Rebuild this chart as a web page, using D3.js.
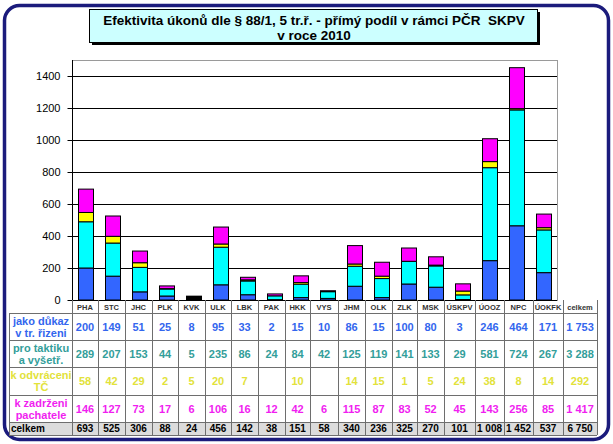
<!DOCTYPE html>
<html><head><meta charset="utf-8">
<script src="https://cdn.jsdelivr.net/npm/d3@7"></script>
<style>body{margin:0;background:#fff;} svg{display:block;font-family:"Liberation Sans",Arial,sans-serif;}</style>
</head><body><svg id="c" width="613" height="444"></svg>
<script>
// ---------- data ----------
const titleLines = ["Efektivita úkonů dle § 88/1, 5 tr.ř. - přímý podíl v rámci PČR\u00a0 SKPV", "v roce 2010"];
const categories = ["PHA","STC","JHC","PLK","KVK","ULK","LBK","PAK","HKK","VYS","JHM","OLK","ZLK","MSK","ÚSKPV","ÚOOZ","NPC","ÚOKFK"];
const totalColumnLabel = "celkem";
const seriesLabels = [["jako důkaz","v tr. řizeni"],["pro taktiku","a vyšetř."],["k odvráceni","TČ"],["k zadrženi","pachatele"]];
const jakoDukaz  = [200,149,51,25,8,95,33,2,15,10,86,15,100,80,3,246,464,171];
const proTaktiku = [289,207,153,44,5,235,86,24,84,42,125,119,141,133,29,581,724,267];
const kOdvraceni = [58,42,29,2,5,20,7,null,10,null,14,15,1,5,24,38,8,14];
const kZadrzeni  = [146,127,73,17,6,106,16,12,42,6,115,87,83,52,45,143,256,85];
const celkem     = [693,525,306,88,24,456,142,38,151,58,340,236,325,270,101,1008,1452,537];
const seriesTotals = [1753,3288,292,1417];
const grandTotal = 6750;
const yTicks = [0,200,400,600,800,1000,1200,1400];

// ---------- styles / layout ----------
const fills = ["#3366ff","#00ffff","#ffff00","#ff00ff"];
const textColors = ["#3366ee","#339e9a","#e2e23a","#f01ef0"];
const blackBars = ["KVK"];
const colWidths = [26,27,27,26,27,26,27,27,25,28,27,27,25,27,31,29,29,30,34];
const rowHeights = [13,27,27,28,27,13];
const plot = {left:72, right:557, top:60, bottom:300};
const labelColLeft = 9;

const svg = d3.select("#c");
const series = [jakoDukaz, proTaktiku, kOdvraceni, kZadrzeni];
const fmt = v => v == null ? "" : d3.format(",")(v).replace(/,/g, "\u00a0");

// frame
svg.append("rect").attr("x",4.5).attr("y",5.5).attr("width",604).attr("height",434)
  .attr("rx",15).attr("fill","#fff").attr("stroke","#1b1b7c").attr("stroke-width",3.5);

// title box
const tb = {x:89, y:9, w:448, h:33};
svg.append("rect").attr("x",tb.x+3).attr("y",tb.y+3).attr("width",tb.w).attr("height",tb.h).attr("fill","#000");
svg.append("rect").attr("x",tb.x+0.5).attr("y",tb.y+0.5).attr("width",tb.w).attr("height",tb.h)
  .attr("fill","#ccffff").attr("stroke","#000").attr("stroke-width",1);
titleLines.forEach((t,i)=>{
  svg.append("text").attr("x",tb.x+tb.w/2+1).attr("y",24.5+i*15).attr("text-anchor","middle")
    .attr("font-weight","bold").attr("font-size",13.5).attr("fill","#000").text(t);
});

// scales
const x = d3.scaleBand().domain(categories).range([plot.left, plot.right]).paddingInner(0.44).paddingOuter(0.22);
const y = d3.scaleLinear().domain([0,1500]).range([plot.bottom, plot.top]);

// plot area border
svg.append("rect").attr("x",plot.left+0.5).attr("y",plot.top+0.5)
  .attr("width",plot.right-plot.left).attr("height",plot.bottom-plot.top)
  .attr("fill","none").attr("stroke","#9a9a9a");

// gridlines
svg.append("g").selectAll("line").data(yTicks.filter(d=>d>0)).join("line")
  .attr("x1",plot.left).attr("x2",plot.right)
  .attr("y1",d=>Math.round(y(d))+0.5).attr("y2",d=>Math.round(y(d))+0.5)
  .attr("stroke","#000").attr("stroke-width",1);

// y axis
const yAxis = svg.append("g").attr("transform",`translate(${plot.left+0.5},0)`)
  .call(d3.axisLeft(y).tickValues(yTicks).tickSize(5).tickPadding(7).tickFormat(d3.format("d")));
yAxis.select(".domain").attr("d",`M0,${plot.top}V${plot.bottom}`).attr("stroke","#000");
yAxis.selectAll(".tick line").attr("stroke","#000");
yAxis.selectAll(".tick text").attr("font-size",11).attr("fill","#000").attr("font-family","Liberation Sans, Arial, sans-serif");

// stacked bars
const rows = categories.map((c,i)=>({cat:c, s0:jakoDukaz[i]||0, s1:proTaktiku[i]||0, s2:kOdvraceni[i]||0, s3:kZadrzeni[i]||0}));
const stack = d3.stack().keys(["s0","s1","s2","s3"]);
const stacked = stack(rows);
svg.append("g").selectAll("g").data(stacked).join("g")
  .attr("fill",(d,i)=>fills[i])
  .selectAll("rect").data(d=>d.filter(p=>p[1]-p[0]>0)).join("rect")
  .attr("x",d=>Math.round(x(d.data.cat))+0.5)
  .attr("y",d=>y(d[1]))
  .attr("width",Math.round(x.bandwidth()))
  .attr("height",d=>y(d[0])-y(d[1]))
  .attr("fill",function(d){ return blackBars.includes(d.data.cat) ? "#000" : null; })
  .attr("stroke","#000").attr("stroke-width",1);

// x axis line
svg.append("line").attr("x1",plot.left).attr("x2",plot.right)
  .attr("y1",plot.bottom+0.5).attr("y2",plot.bottom+0.5).attr("stroke","#000");

// ---------- data table ----------
const colEdges = [plot.left, ...d3.cumsum(colWidths).map(v=>plot.left+v)];
const rowEdges = [plot.bottom, ...d3.cumsum(rowHeights).map(v=>plot.bottom+v)];
const tableRight = colEdges[colEdges.length-1];
const tbl = svg.append("g");
const colLabels = [...categories, totalColumnLabel];
const colCenter = i => (colEdges[i]+colEdges[i+1])/2;
const rowCenter = r => (rowEdges[r]+rowEdges[r+1])/2;

// celkem row background
tbl.append("rect").attr("x",labelColLeft).attr("y",rowEdges[5])
  .attr("width",tableRight-labelColLeft).attr("height",rowEdges[6]-rowEdges[5]).attr("fill","#dcdcdc");

// horizontal lines
tbl.selectAll("line.h").data(rowEdges.slice(1)).join("line").attr("class","h")
  .attr("x1",labelColLeft).attr("x2",tableRight)
  .attr("y1",d=>d+0.5).attr("y2",d=>d+0.5).attr("stroke","#6e6e6e");
// vertical lines
tbl.selectAll("line.v").data(colEdges).join("line").attr("class","v")
  .attr("x1",d=>d+0.5).attr("x2",d=>d+0.5)
  .attr("y1",plot.bottom).attr("y2",rowEdges[6]).attr("stroke","#6e6e6e");
tbl.append("line").attr("x1",labelColLeft+0.5).attr("x2",labelColLeft+0.5)
  .attr("y1",rowEdges[1]).attr("y2",rowEdges[6]).attr("stroke","#6e6e6e");

// header labels
tbl.selectAll("text.hd").data(colLabels).join("text").attr("class","hd")
  .attr("x",(d,i)=>colCenter(i)).attr("y",rowCenter(0)+3)
  .attr("text-anchor","middle").attr("font-size",7.5).attr("font-weight","bold").attr("fill","#333")
  .text(d=>d);

// series rows
series.forEach((vals,r)=>{
  const lab = tbl.append("text").attr("text-anchor","middle").attr("font-size",11)
    .attr("font-weight","bold").attr("fill",textColors[r]);
  lab.selectAll("tspan").data(seriesLabels[r]).join("tspan")
    .attr("x",(labelColLeft+plot.left)/2+0.5).attr("y",(d,i)=>rowCenter(r+1)-2+i*12).text(d=>d);
  tbl.selectAll("text.v"+r).data([...vals, seriesTotals[r]]).join("text").attr("class","v"+r)
    .attr("x",(d,i)=>colCenter(i)).attr("y",rowCenter(r+1)+4)
    .attr("text-anchor","middle").attr("font-size",11).attr("font-weight","bold")
    .attr("fill",textColors[r]).text(d=>fmt(d));
});

// total row
tbl.append("text").attr("x",labelColLeft+2).attr("y",rowCenter(5)+3.5)
  .attr("font-size",10).attr("font-weight","bold").attr("fill","#000").text(totalColumnLabel);
tbl.selectAll("text.tot").data([...celkem, grandTotal]).join("text").attr("class","tot")
  .attr("x",(d,i)=>colCenter(i)).attr("y",rowCenter(5)+3.5)
  .attr("text-anchor","middle").attr("font-size",10).attr("font-weight","bold").attr("fill","#000")
  .text(d=>fmt(d));
</script></body></html>
